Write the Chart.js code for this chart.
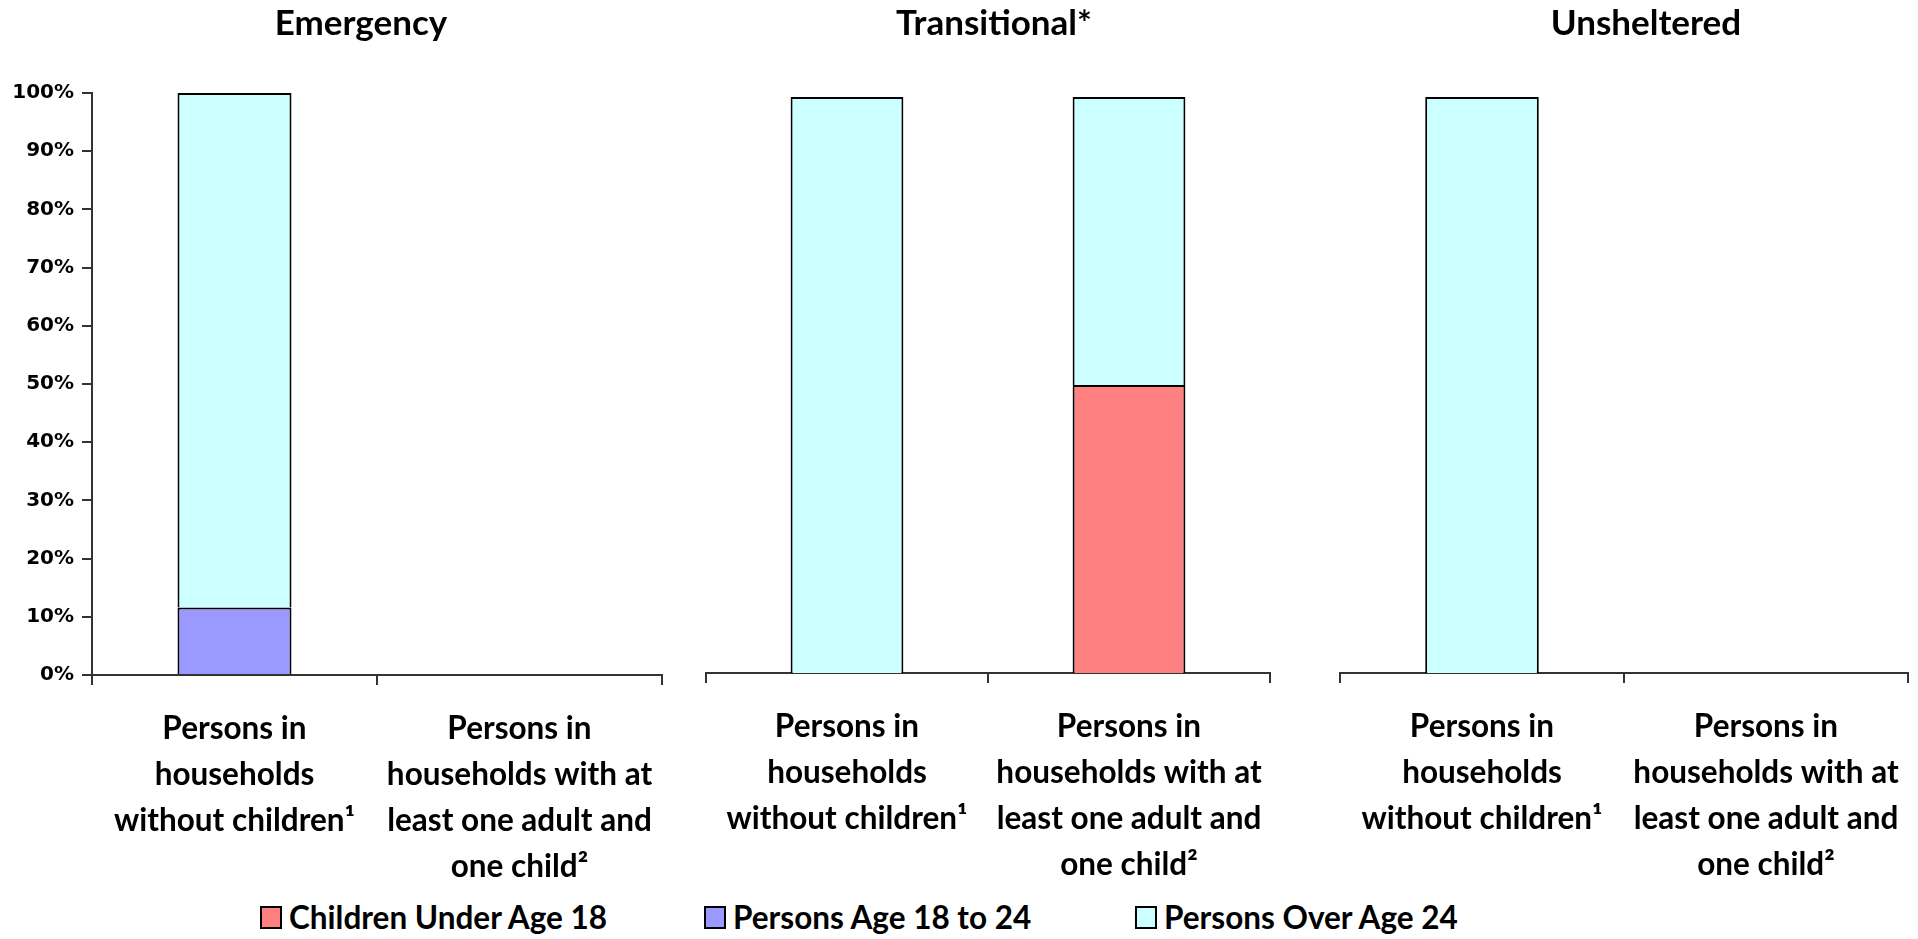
<!DOCTYPE html>
<html>
<head>
<meta charset="utf-8">
<script src="https://cdn.jsdelivr.net/npm/chart.js@4.4.0/dist/chart.umd.min.js"></script>
<style>
  body { margin: 0; background: #fff; width: 1918px; height: 939px; overflow: hidden; position: relative;
         font-family: Lato, "Open Sans", sans-serif; font-weight: bold; color: #000; }
  canvas { position: absolute; top: 0; }
  .title { position: absolute; top: 0px; font-size: 35px; transform: translateX(-50%); white-space: nowrap; }
  .leg { position: absolute; top: 898px; font-size: 31.5px; white-space: nowrap; display: flex; align-items: center; }
  .leg span.box { display: inline-block; width: 18px; height: 19px; border: 2px solid #000; margin-right: 7px; }
</style>
</head>
<body>
<canvas id="c1" width="680" height="895"></canvas>
<canvas id="c2" width="600" height="895"></canvas>
<canvas id="c3" width="628" height="895"></canvas>
<script>
// categories (same two in every panel)
const categories = [
    ['Persons in', 'households', 'without children¹'],
    ['Persons in', 'households with at', 'least one adult and', 'one child²']
];
const panelTitles = ['Emergency', 'Transitional*', 'Unsheltered'];
const seriesNames = ['Children Under Age 18', 'Persons Age 18 to 24', 'Persons Over Age 24'];
const seriesColors = ['#FF8080', '#9999FF', '#CCFFFF'];
const yTicks = [0, 10, 20, 30, 40, 50, 60, 70, 80, 90, 100];

// percentages: [without children, with adult and child]
const emergencyChildren = [0, 0];
const emergencyYouth = [11.6, 0];
const emergencyAdults = [88.4, 0];

const transitionalChildren = [0, 50];
const transitionalYouth = [0, 0];
const transitionalAdults = [100, 50];

const unshelteredChildren = [0, 0];
const unshelteredYouth = [0, 0];
const unshelteredAdults = [100, 0];

const panelData = [
    [emergencyChildren, emergencyYouth, emergencyAdults],
    [transitionalChildren, transitionalYouth, transitionalAdults],
    [unshelteredChildren, unshelteredYouth, unshelteredAdults]
];

// page layout for each panel
const panels = [
    { id: 'c1', left: 0,    padTop: 93, padLeft: 0,  padRight: 18, showY: true,  axisH: 220, titleX: 361 },
    { id: 'c2', left: 690,  padTop: 97, padLeft: 16, padRight: 20, showY: false, axisH: 222, titleX: 994 },
    { id: 'c3', left: 1290, padTop: 97, padLeft: 50, padRight: 10, showY: false, axisH: 222, titleX: 1646 }
];
const legendX = [260, 704, 1135];

const labelFont = { family: 'Lato', weight: 'bold', size: 31.5, lineHeight: 46 / 31.5 };

panels.forEach((p, i) => {
    const canvas = document.getElementById(p.id);
    canvas.style.left = p.left + 'px';

    const t = document.createElement('div');
    t.className = 'title';
    t.style.left = p.titleX + 'px';
    t.textContent = panelTitles[i];
    document.body.appendChild(t);

    new Chart(canvas, {
        type: 'bar',
        data: {
            labels: categories,
            datasets: seriesNames.map((name, k) => ({
                label: name,
                data: panelData[i][k],
                backgroundColor: seriesColors[k],
                borderColor: '#000',
                borderWidth: ctx => (ctx.raw ? 2 : 0),
                borderSkipped: 'start',
                barPercentage: 0.4,
                categoryPercentage: 1
            }))
        },
        options: {
            responsive: false,
            animation: false,
            devicePixelRatio: 1,
            layout: { padding: { top: p.padTop, left: p.padLeft, right: p.padRight, bottom: 0 } },
            plugins: { legend: { display: false }, title: { display: false }, tooltip: { enabled: false } },
            scales: {
                x: {
                    stacked: true,
                    afterFit: s => { s.height = p.axisH; s.paddingLeft = 0; s.paddingRight = 0; },
                    grid: { drawOnChartArea: false, drawTicks: true, tickLength: 10, color: '#333', lineWidth: 2 },
                    border: { display: true, color: '#333', width: 2 },
                    ticks: { color: '#000', font: labelFont, padding: 21, maxRotation: 0, autoSkip: false }
                },
                y: {
                    stacked: true,
                    display: p.showY,
                    min: 0,
                    max: 100,
                    afterFit: s => { s.width = p.showY ? 92 : 0; },
                    afterBuildTicks: s => { s.ticks = yTicks.map(v => ({ value: v })); },
                    grid: { drawOnChartArea: false, drawTicks: true, tickLength: 10, color: '#333', lineWidth: 2 },
                    border: { display: true, color: '#333', width: 2 },
                    ticks: {
                        color: '#000',
                        padding: 8,
                        font: { family: 'DejaVu Sans', weight: 'bold', size: 20 },
                        callback: v => v + '%'
                    }
                }
            }
        }
    });
});

// legend
seriesNames.forEach((name, k) => {
    const d = document.createElement('div');
    d.className = 'leg';
    d.style.left = legendX[k] + 'px';
    const b = document.createElement('span');
    b.className = 'box';
    b.style.background = seriesColors[k];
    d.appendChild(b);
    d.appendChild(document.createTextNode(name));
    document.body.appendChild(d);
});
</script>
</body>
</html>
